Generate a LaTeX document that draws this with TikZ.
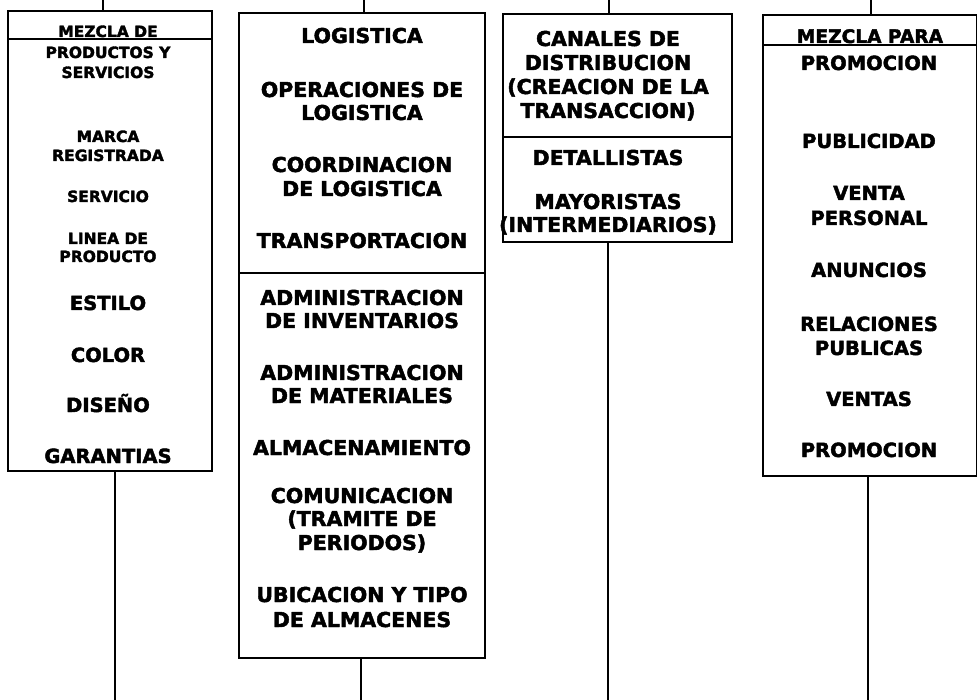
\documentclass[tikz,border=0pt]{standalone}
\usepackage{fontspec}
\setmainfont{DejaVu Sans}[BoldFeatures={FakeBold=2.2}]
\begin{document}
\begin{tikzpicture}[x=1pt,y=-1pt,
  boxst/.style={draw=black, line width=1.9pt, inner sep=0pt, anchor=north west, fill=none},
  conn/.style={draw=black, line width=2pt},
  divline/.style={draw=black, line width=1.6pt},
  txs/.style={inner sep=0pt, anchor=base, font=\bfseries\fontsize{15.5}{18}\selectfont},
  txl/.style={inner sep=0pt, anchor=base, font=\bfseries\fontsize{19.5}{23}\selectfont},
  txm/.style={inner sep=0pt, anchor=base, font=\bfseries\fontsize{20.5}{24}\selectfont},
  txp/.style={inner sep=0pt, anchor=base, font=\bfseries\fontsize{19.5}{23}\selectfont}]
\useasboundingbox[fill=white] (0,0) rectangle (977,700);

% boxes
\node[boxst, minimum width=204pt, minimum height=460pt] (b1) at (7,10) {};
\node[boxst, minimum width=246pt, minimum height=645pt] (b2) at (238,12) {};
\node[boxst, minimum width=229pt, minimum height=228pt] (b3) at (502,13) {};
\node[boxst, minimum width=214pt, minimum height=461pt] (b4) at (762,14) {};

% dividers
\coordinate (d1) at (0,39);
\coordinate (d2) at (0,273);
\coordinate (d3) at (0,137);
\coordinate (d4) at (0,45);
\draw[divline] (b1.west |- d1) -- (b1.east |- d1);
\draw[divline] (b2.west |- d2) -- (b2.east |- d2);
\draw[divline] (b3.west |- d3) -- (b3.east |- d3);
\draw[divline] (b4.west |- d4) -- (b4.east |- d4);

% connectors
\coordinate (t1) at (103,0);
\coordinate (t2) at (364,0);
\coordinate (t3) at (609,0);
\coordinate (t4) at (871,0);
\coordinate (u1) at (115,700);
\coordinate (u2) at (361,700);
\coordinate (u3) at (608,700);
\coordinate (u4) at (868,700);
\draw[conn] (t1) -- (t1 |- b1.north);
\draw[conn] (t2) -- (t2 |- b2.north);
\draw[conn] (t3) -- (t3 |- b3.north);
\draw[conn] (t4) -- (t4 |- b4.north);
\draw[conn] (u1 |- b1.south) -- (u1);
\draw[conn] (u2 |- b2.south) -- (u2);
\draw[conn] (u3 |- b3.south) -- (u3);
\draw[conn] (u4 |- b4.south) -- (u4);

% box 1 texts
\foreach \t/\y [count=\i] in {{MEZCLA DE}/37, {PRODUCTOS Y}/58, {SERVICIOS}/78, {MARCA}/142, {REGISTRADA}/161, {SERVICIO}/202, {LINEA DE}/244, {PRODUCTO}/262}
  \node[txs] (pa\i) at (108,\y) {\t};
\foreach \t/\y [count=\i] in {{ESTILO}/310, {COLOR}/362, {DISEÑO}/412, {GARANTIAS}/463}
  \node[txl] (pb\i) at (108,\y) {\t};

% box 2 texts
\foreach \t/\y [count=\i] in {{LOGISTICA}/43, {OPERACIONES DE}/97, {LOGISTICA}/120, {COORDINACION}/172, {DE LOGISTICA}/196, {TRANSPORTACION}/248, {ADMINISTRACION}/305, {DE INVENTARIOS}/328, {ADMINISTRACION}/380, {DE MATERIALES}/403, {ALMACENAMIENTO}/455, {COMUNICACION}/503, {(TRAMITE DE}/526, {PERIODOS)}/550, {UBICACION Y TIPO}/602, {DE ALMACENES}/627}
  \node[txm] (lg\i) at (362,\y) {\t};

% box 3 texts
\foreach \t/\y [count=\i] in {{CANALES DE}/46, {DISTRIBUCION}/70, {(CREACION DE LA}/94, {TRANSACCION)}/118, {DETALLISTAS}/165, {MAYORISTAS}/209, {(INTERMEDIARIOS)}/232}
  \node[txm] (cd\i) at (608,\y) {\t};

% box 4 texts
\node[txp, font=\bfseries\fontsize{18.6}{22}\selectfont] (pr0) at (870,43) {MEZCLA PARA};
\foreach \t/\y [count=\i] in {{PROMOCION}/70, {PUBLICIDAD}/148, {VENTA}/200, {PERSONAL}/225, {ANUNCIOS}/277, {RELACIONES}/331, {PUBLICAS}/355, {VENTAS}/406, {PROMOCION}/457}
  \node[txp] (pr\i) at (869,\y) {\t};
\end{tikzpicture}
\end{document}
